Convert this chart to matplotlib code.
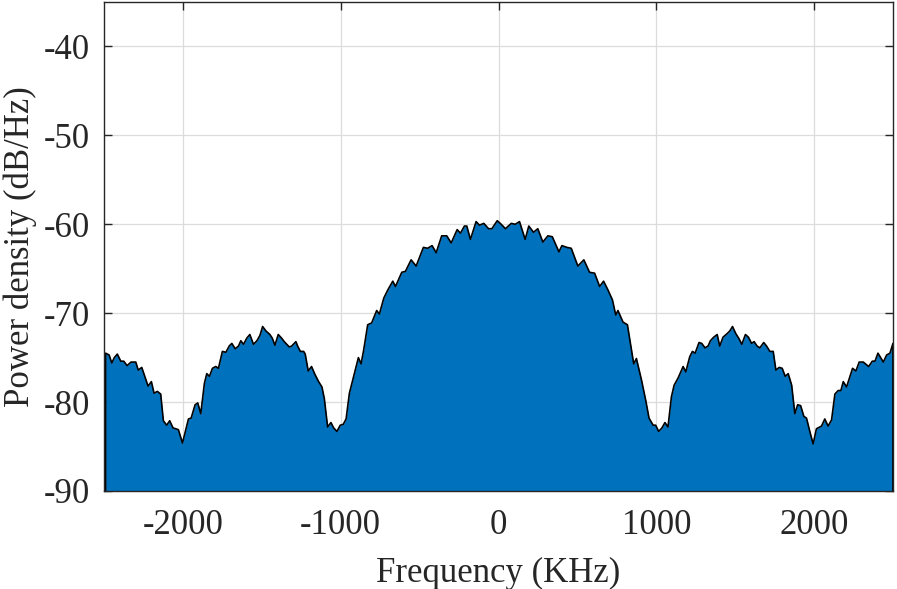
import matplotlib
matplotlib.use("Agg")
import matplotlib.pyplot as plt
import numpy as np

# frequency (KHz) and power density (dB/Hz)
freq_khz = [
    -2490, -2468, -2451, -2435, -2416, -2394, -2375, -2354, -2329, -2299,
    -2283, -2261, -2240, -2221, -2200, -2183, -2162, -2141, -2124, -2103,
    -2084, -2063, -2029, -2003, -1965, -1948, -1923, -1906, -1887, -1864,
    -1849, -1832, -1813, -1792, -1775, -1750, -1728, -1707, -1690, -1669,
    -1648, -1633, -1616, -1595, -1576, -1553, -1531, -1512, -1495, -1474,
    -1449, -1434, -1417, -1396, -1375, -1358, -1326, -1311, -1284, -1273,
    -1256, -1235, -1225, -1206, -1185, -1163, -1140, -1119, -1104, -1083,
    -1062, -1045, -1024, -1003, -984, -966, -945, -914, -888, -871,
    -855, -829, -804, -772, -755, -727, -702, -670, -653, -613,
    -590, -554, -522, -476, -449, -421, -395, -360, -328, -300,
    -262, -241, -216, -201, -178, -142, -121, -93, -63, -42,
    -8, 17, 44, 81, 106, 133, 169, 192, 222, 249,
    281, 313, 341, 383, 402, 433, 461, 503, 541, 577,
    609, 641, 666, 694, 722, 743, 757, 789, 817, 857,
    874, 906, 933, 954, 980, 996, 1015, 1036, 1055, 1074,
    1096, 1113, 1138, 1170, 1187, 1212, 1229, 1246, 1271, 1288,
    1309, 1328, 1343, 1364, 1386, 1402, 1423, 1449, 1466, 1483,
    1504, 1525, 1542, 1565, 1584, 1604, 1620, 1639, 1656, 1681,
    1699, 1720, 1741, 1758, 1779, 1798, 1817, 1836, 1858, 1878,
    1896, 1915, 1935, 1952, 1973, 1994, 2015, 2047, 2068, 2089,
    2111, 2132, 2153, 2170, 2185, 2206, 2244, 2265, 2286, 2312,
    2346, 2369, 2386, 2405, 2439, 2460, 2481, 2500,
]
power_db = [
    -74.5, -74.7, -75.6, -75.0, -74.6, -75.4, -75.4, -75.9, -75.5, -75.5,
    -76.4, -76.1, -77.2, -78.2, -77.7, -79.0, -78.8, -79.1, -82.1, -82.6,
    -82.1, -82.9, -83.1, -84.6, -81.9, -81.8, -80.3, -80.1, -81.3, -77.9,
    -76.8, -77.1, -76.2, -76.0, -76.2, -74.3, -74.4, -73.7, -73.4, -74.0,
    -73.7, -73.1, -73.5, -72.8, -72.4, -73.5, -73.1, -72.5, -71.5, -72.0,
    -72.4, -72.8, -73.6, -72.4, -72.8, -73.2, -73.8, -73.7, -73.2, -73.7,
    -74.3, -74.3, -74.6, -76.5, -76.0, -76.9, -77.7, -78.3, -79.6, -82.8,
    -82.3, -82.9, -83.3, -82.6, -82.5, -81.9, -79.0, -76.8, -75.0, -75.7,
    -74.2, -71.3, -71.1, -69.7, -70.1, -68.3, -67.4, -66.4, -67.0, -65.4,
    -65.3, -64.0, -64.7, -62.6, -62.7, -62.4, -63.2, -61.3, -61.3, -62.1,
    -60.6, -61.0, -60.2, -60.2, -61.7, -59.7, -60.1, -59.9, -60.5, -60.5,
    -59.6, -60.0, -60.5, -59.9, -60.0, -59.7, -61.7, -60.2, -60.9, -60.5,
    -62.0, -61.3, -61.4, -63.1, -62.4, -62.6, -62.7, -64.7, -64.0, -65.4,
    -65.5, -67.0, -66.4, -67.4, -68.5, -70.2, -69.7, -71.0, -71.3, -75.7,
    -75.1, -77.5, -79.8, -81.8, -82.6, -82.6, -83.3, -82.9, -82.3, -82.8,
    -79.4, -78.1, -77.3, -76.0, -76.6, -74.9, -74.3, -74.5, -73.3, -73.4,
    -73.9, -73.7, -73.1, -72.7, -72.4, -73.7, -72.7, -72.3, -72.0, -71.5,
    -72.3, -72.9, -73.5, -72.4, -72.7, -73.4, -73.2, -73.7, -73.9, -73.3,
    -73.7, -74.3, -74.3, -76.4, -76.1, -76.2, -77.1, -76.8, -78.1, -81.3,
    -80.3, -80.4, -81.6, -81.8, -83.3, -84.7, -83.0, -82.7, -81.9, -82.7,
    -82.0, -79.1, -78.7, -78.7, -77.7, -78.3, -76.2, -76.5, -75.5, -75.5,
    -76.0, -75.4, -75.4, -74.5, -75.5, -74.7, -74.5, -73.4,
]

x_ticks = [-2000, -1000, 0, 1000, 2000]
y_ticks = [-90, -80, -70, -60, -50, -40]

plt.rcParams['font.family'] = ['Liberation Serif', 'DejaVu Serif']

fig = plt.figure(figsize=(8.97, 5.89), dpi=100)
ax = fig.add_axes([0.116, 0.1664, 0.8795, 0.8302])

base = -90
ax.fill_between(freq_khz, power_db, base, color='#0072BD', linewidth=0, zorder=2)
# outline like matlab area(): the top edge plus the vertical sides
edge_x = [freq_khz[0]] + freq_khz + [freq_khz[-1]]
edge_y = [base] + power_db + [base]
ax.plot(edge_x, edge_y, color='black', linewidth=1.2, zorder=3)

ax.set_xlim(-2500, 2500)
ax.set_ylim(-90, -35)
ax.set_xticks(x_ticks)
ax.set_yticks(y_ticks)
ax.set_xticklabels([str(v) for v in x_ticks])
ax.set_yticklabels([str(v) for v in y_ticks])

ax.grid(True, color='#dcdcdc', linewidth=0.9, zorder=0)
ax.set_axisbelow(True)
ax.tick_params(direction='in', length=6, width=1, colors='#262626',
               labelsize=25, top=True, right=True,
               labeltop=False, labelright=False)
ax.tick_params(axis='x', pad=13)
ax.tick_params(axis='y', pad=10)
for sp in ax.spines.values():
    sp.set_color('#262626')
    sp.set_linewidth(1.0)
    sp.set_zorder(4)

ax.set_xlabel('Frequency (KHz)', fontsize=25, color='#262626', labelpad=11)
ax.set_ylabel('Power density (dB/Hz)', fontsize=25, color='#262626', labelpad=5)

fig.savefig('out.png', dpi=100)
